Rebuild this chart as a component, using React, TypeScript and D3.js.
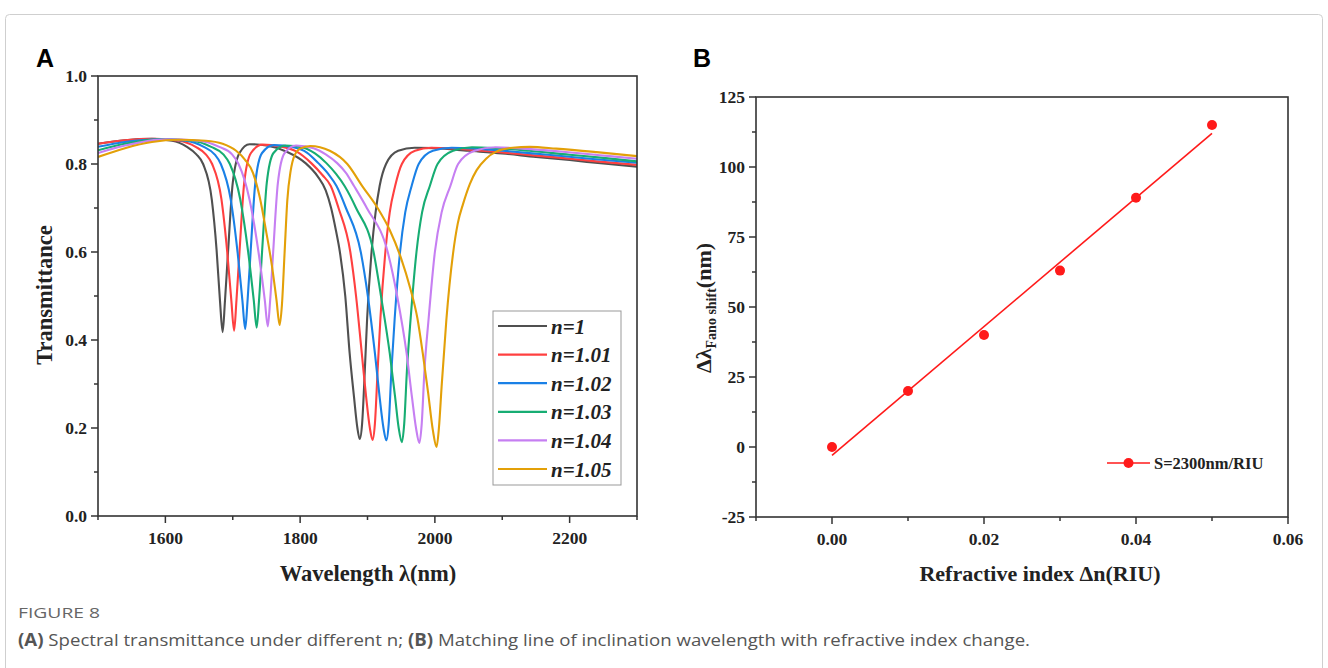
import React from "react";
import * as d3 from "d3";

const width = 1328;
const height = 668;

// ---- panel A data: transmittance spectra, [wavelength nm, T]
const legendLabels = ["n=1", "n=1.01", "n=1.02", "n=1.03", "n=1.04", "n=1.05"];
const lineColors = ["#505050", "#ff4040", "#1a80e6", "#17ad73", "#c67ff2", "#e3a008"];

const specN100 = [[1500,0.846],[1540,0.854],[1580,0.857],[1610,0.853],[1632,0.839],[1646,0.822],[1656,0.800],[1669,0.718],[1676,0.605],[1681,0.490],[1685,0.418],[1688.5,0.490],[1693,0.600],[1700,0.757],[1710,0.825],[1725,0.845],[1750,0.842],[1780,0.828],[1808,0.802],[1826,0.772],[1838,0.740],[1846,0.700],[1853,0.650],[1859,0.600],[1867,0.500],[1873.5,0.370],[1880,0.270],[1885,0.200],[1888.5,0.175],[1892,0.210],[1896,0.330],[1899.5,0.450],[1906,0.600],[1912,0.690],[1918,0.750],[1927.5,0.800],[1945.5,0.830],[1970,0.837],[2000,0.836],[2050,0.830],[2100,0.824],[2150,0.816],[2200,0.809],[2250,0.801],[2300,0.794]];
const specN101 = [[1500,0.846],[1540,0.854],[1585,0.857],[1620,0.853],[1645,0.839],[1660,0.822],[1669.4,0.800],[1683.2,0.720],[1691.8,0.600],[1697.9,0.490],[1702,0.421],[1705.5,0.490],[1710,0.600],[1717,0.757],[1727,0.825],[1744,0.844],[1770,0.840],[1795,0.828],[1816.5,0.802],[1833,0.775],[1845.5,0.750],[1857,0.700],[1874.5,0.600],[1883,0.500],[1891.5,0.370],[1898,0.270],[1903.5,0.200],[1907.5,0.173],[1911,0.210],[1915,0.330],[1919.2,0.450],[1926.5,0.600],[1933,0.690],[1941,0.750],[1951,0.800],[1970.5,0.830],[1995,0.837],[2030,0.835],[2080,0.829],[2130,0.822],[2180,0.815],[2240,0.806],[2300,0.798]];
const specN102 = [[1500,0.839],[1540,0.850],[1590,0.856],[1630,0.853],[1657,0.839],[1673,0.822],[1682.3,0.800],[1696.9,0.720],[1707.1,0.600],[1714.3,0.490],[1718.5,0.425],[1722,0.490],[1726.5,0.600],[1733.5,0.757],[1743.5,0.825],[1761,0.843],[1790,0.838],[1810,0.826],[1827,0.802],[1842,0.777],[1854,0.750],[1868,0.700],[1890,0.600],[1900.5,0.500],[1911,0.370],[1918,0.270],[1923.7,0.200],[1928,0.172],[1931.5,0.210],[1935.5,0.330],[1940.4,0.450],[1948.3,0.600],[1956,0.690],[1965.5,0.750],[1976,0.800],[1997,0.830],[2025,0.837],[2060,0.835],[2110,0.829],[2160,0.822],[2230,0.812],[2300,0.803]];
const specN103 = [[1500,0.831],[1540,0.846],[1595,0.856],[1640,0.853],[1668,0.839],[1686,0.822],[1695.7,0.800],[1711.1,0.720],[1722.9,0.600],[1731.2,0.490],[1735.5,0.428],[1739,0.490],[1743.5,0.600],[1750.5,0.757],[1760.5,0.825],[1778,0.842],[1805,0.837],[1822,0.824],[1839,0.802],[1853,0.778],[1866,0.750],[1883,0.700],[1909,0.600],[1920,0.500],[1933,0.370],[1941,0.270],[1946.3,0.200],[1951,0.168],[1954.5,0.210],[1958.5,0.330],[1964.1,0.450],[1972.7,0.600],[1981,0.690],[1992.5,0.750],[2004,0.800],[2027,0.830],[2055,0.838],[2090,0.836],[2140,0.830],[2200,0.821],[2250,0.814],[2300,0.806]];
const specN104 = [[1500,0.825],[1540,0.842],[1600,0.856],[1650,0.853],[1680,0.839],[1699,0.822],[1708.6,0.800],[1724.8,0.720],[1738.2,0.600],[1747.6,0.490],[1752,0.431],[1755.5,0.490],[1760,0.600],[1767,0.757],[1777,0.825],[1794,0.842],[1820,0.836],[1838,0.822],[1855,0.802],[1868,0.780],[1880,0.750],[1899,0.700],[1930,0.600],[1944,0.500],[1958,0.370],[1966,0.270],[1972,0.200],[1977,0.166],[1980.5,0.210],[1984.5,0.330],[1990.8,0.450],[2000,0.600],[2010,0.690],[2023,0.750],[2034.5,0.800],[2059,0.830],[2090,0.838],[2130,0.835],[2190,0.828],[2245,0.820],[2300,0.812]];
const specN105 = [[1500,0.816],[1540,0.836],[1580,0.850],[1620,0.855],[1660,0.853],[1685,0.846],[1705,0.830],[1718,0.810],[1730,0.780],[1740,0.725],[1750,0.643],[1758,0.570],[1765,0.490],[1769.5,0.434],[1773,0.480],[1777,0.600],[1781,0.718],[1786,0.785],[1791,0.817],[1800,0.835],[1815,0.841],[1844,0.830],[1870,0.800],[1893,0.748],[1915,0.700],[1933,0.650],[1950,0.585],[1963,0.520],[1974,0.450],[1982,0.370],[1990,0.280],[1997,0.195],[2002.5,0.157],[2006,0.200],[2010,0.294],[2017,0.445],[2027,0.597],[2034,0.665],[2042,0.710],[2052,0.755],[2062,0.786],[2076,0.812],[2091,0.828],[2115,0.837],[2141,0.839],[2180,0.835],[2240,0.827],[2300,0.818]];
const spectra = [specN100, specN101, specN102, specN103, specN104, specN105];

const aYTicks = [0, 0.2, 0.4, 0.6, 0.8, 1.0];
const aYMinor = [0.1, 0.3, 0.5, 0.7, 0.9];
const aXTicks = [1600, 1800, 2000, 2200];
const aXMinor = [1500, 1700, 1900, 2100, 2300];

// ---- panel B data
const deltaN = [0, 0.01, 0.02, 0.03, 0.04, 0.05];
const fanoShift = [0, 20, 40, 63, 89, 115];
const bYTicks = [-25, 0, 25, 50, 75, 100, 125];
const bYMinor = [-12.5, 12.5, 37.5, 62.5, 87.5, 112.5];
const bXTicks = [0, 0.02, 0.04, 0.06];
const bXMinor = [-0.01, 0.01, 0.03, 0.05];

const serif = "'Liberation Serif', 'Times New Roman', serif";
const sans = "'Open Sans', 'Noto Sans', sans-serif";
const axisColor = "#333";

const xA = d3.scaleLinear().domain([1500, 2300]).range([98, 637]);
const yA = d3.scaleLinear().domain([0, 1]).range([516, 76]);
const xB = d3.scaleLinear().domain([-0.01, 0.06]).range([756, 1288]);
const yB = d3.scaleLinear().domain([-25, 125]).range([517, 97]);

function Frame({x, y}: any) {
    const [x0, x1] = x.range();
    const [y0, y1] = y.range();
    return <rect x={x0} y={y1} width={x1 - x0} height={y0 - y1} fill="none" stroke={axisColor} strokeWidth={1.6}/>;
}

function Ticks({x, y, xt, xm, yt, ym, fx, fy}: any) {
    const x0 = x.range()[0];
    const y0 = y.range()[0];
    return (
        <g>
            {yt.map((v: number) => (
                <g key={"y" + v}>
                    <line x1={x0 - 7} x2={x0} y1={y(v)} y2={y(v)} stroke={axisColor} strokeWidth={1.5}/>
                    <text x={x0 - 11} y={y(v) + 6} textAnchor="end" fontFamily={serif} fontWeight="bold" fontSize={17.5}
                          fill="#222">{fy(v)}</text>
                </g>
            ))}
            {ym.map((v: number) => (
                <line key={"ym" + v} x1={x0 - 4} x2={x0} y1={y(v)} y2={y(v)} stroke={axisColor} strokeWidth={1.5}/>
            ))}
            {xt.map((v: number) => (
                <g key={"x" + v}>
                    <line x1={x(v)} x2={x(v)} y1={y0} y2={y0 + 7} stroke={axisColor} strokeWidth={1.5}/>
                    <text x={x(v)} y={y0 + 28} textAnchor="middle" fontFamily={serif} fontWeight="bold" fontSize={17.5}
                          fill="#222">{fx(v)}</text>
                </g>
            ))}
            {xm.map((v: number) => (
                <line key={"xm" + v} x1={x(v)} x2={x(v)} y1={y0} y2={y0 + 4} stroke={axisColor} strokeWidth={1.5}/>
            ))}
        </g>
    );
}

function App() {
    const specLine = d3.line<number[]>()
        .x(d => xA(d[0]))
        .y(d => yA(d[1]))
        .curve(d3.curveMonotoneX);

    // least squares fit of the shift points
    const mx = d3.mean(deltaN) as number;
    const my = d3.mean(fanoShift) as number;
    const slope = d3.sum(deltaN.map((v, i) => (v - mx) * (fanoShift[i] - my))) /
        d3.sum(deltaN.map(v => (v - mx) * (v - mx)));
    const icept = my - slope * mx;
    const fitEnds = [deltaN[0], deltaN[deltaN.length - 1]];

    return (
        <svg width={width} height={height} style={{position: "absolute", left: 0, top: 0, background: "#fff"}}>
            <rect x={5.5} y={14.5} width={1317} height={700} rx={4} fill="none" stroke="#cfcfcf"/>

            {/* panel A */}
            <text x={36} y={67} fontFamily="'Liberation Sans', Arial, sans-serif" fontWeight="bold" fontSize={25}>A</text>
            <defs>
                <clipPath id="clipA">
                    <rect x={98} y={76} width={539} height={440}/>
                </clipPath>
            </defs>
            <g clipPath="url(#clipA)">
                {spectra.map((s, i) => (
                    <path key={i} d={specLine(s) as string} fill="none" stroke={lineColors[i]} strokeWidth={2.1}/>
                ))}
            </g>
            <Frame x={xA} y={yA}/>
            <Ticks x={xA} y={yA} xt={aXTicks} xm={aXMinor} yt={aYTicks} ym={aYMinor}
                   fx={(v: number) => String(v)} fy={d3.format(".1f")}/>
            <text x={368} y={581} textAnchor="middle" fontFamily={serif} fontWeight="bold" fontSize={22.5} fill="#222">Wavelength λ(nm)</text>
            <text transform="translate(52,295) rotate(-90)" textAnchor="middle" fontFamily={serif} fontWeight="bold"
                  fontSize={22.5} fill="#222">Transmittance</text>

            <g transform="translate(493,311)">
                <rect x={0} y={0} width={128} height={174} fill="#fff" stroke="#999" strokeWidth={1}/>
                {legendLabels.map((l, i) => (
                    <g key={l} transform={`translate(0,${15 + i * 28.6})`}>
                        <line x1={5} x2={54} y1={0} y2={0} stroke={lineColors[i]} strokeWidth={2.2}/>
                        <text x={58} y={7.5} fontFamily={serif} fontStyle="italic" fontWeight="bold" fontSize={21}
                              fill="#222">{l}</text>
                    </g>
                ))}
            </g>

            {/* panel B */}
            <text x={693} y={67} fontFamily="'Liberation Sans', Arial, sans-serif" fontWeight="bold" fontSize={25}>B</text>
            <line x1={xB(fitEnds[0])} y1={yB(icept + slope * fitEnds[0])} x2={xB(fitEnds[1])}
                  y2={yB(icept + slope * fitEnds[1])} stroke="#ff1a1a" strokeWidth={1.6}/>
            {deltaN.map((v, i) => (
                <circle key={i} cx={xB(v)} cy={yB(fanoShift[i])} r={5} fill="#ff1a1a"/>
            ))}
            <Frame x={xB} y={yB}/>
            <Ticks x={xB} y={yB} xt={bXTicks} xm={bXMinor} yt={bYTicks} ym={bYMinor}
                   fx={d3.format(".2f")} fy={(v: number) => String(v)}/>
            <text x={1040} y={581} textAnchor="middle" fontFamily={serif} fontWeight="bold" fontSize={22} fill="#222">Refractive index Δn(RIU)</text>
            <text transform="translate(711,308) rotate(-90)" textAnchor="middle" fontFamily={serif} fontWeight="bold"
                  fontSize={22} fill="#222">
                Δλ<tspan fontSize={14} dy={5}>Fano shift</tspan><tspan dy={-5}>(nm)</tspan>
            </text>

            <g transform="translate(1107,463)">
                <line x1={0} x2={43} y1={0} y2={0} stroke="#ff1a1a" strokeWidth={1.6}/>
                <circle cx={21.5} cy={0} r={5} fill="#ff1a1a"/>
                <text x={47} y={5.5} fontFamily={serif} fontWeight="bold" fontSize={16.5} fill="#222">S=2300nm/RIU</text>
            </g>

            {/* caption */}
            <text x={18} y={618} fontFamily={sans} fontSize={15} fill="#666" textLength={82}
                  lengthAdjust="spacingAndGlyphs">FIGURE 8</text>
            <text x={18} y={646} fontFamily={sans} fontSize={17} fill="#555" textLength={1012}
                  lengthAdjust="spacingAndGlyphs">
                <tspan fontWeight="bold">(A)</tspan> Spectral transmittance under different n; <tspan fontWeight="bold">(B)</tspan> Matching
                line of inclination wavelength with refractive index change.
            </text>
        </svg>
    );
}

export default App;
